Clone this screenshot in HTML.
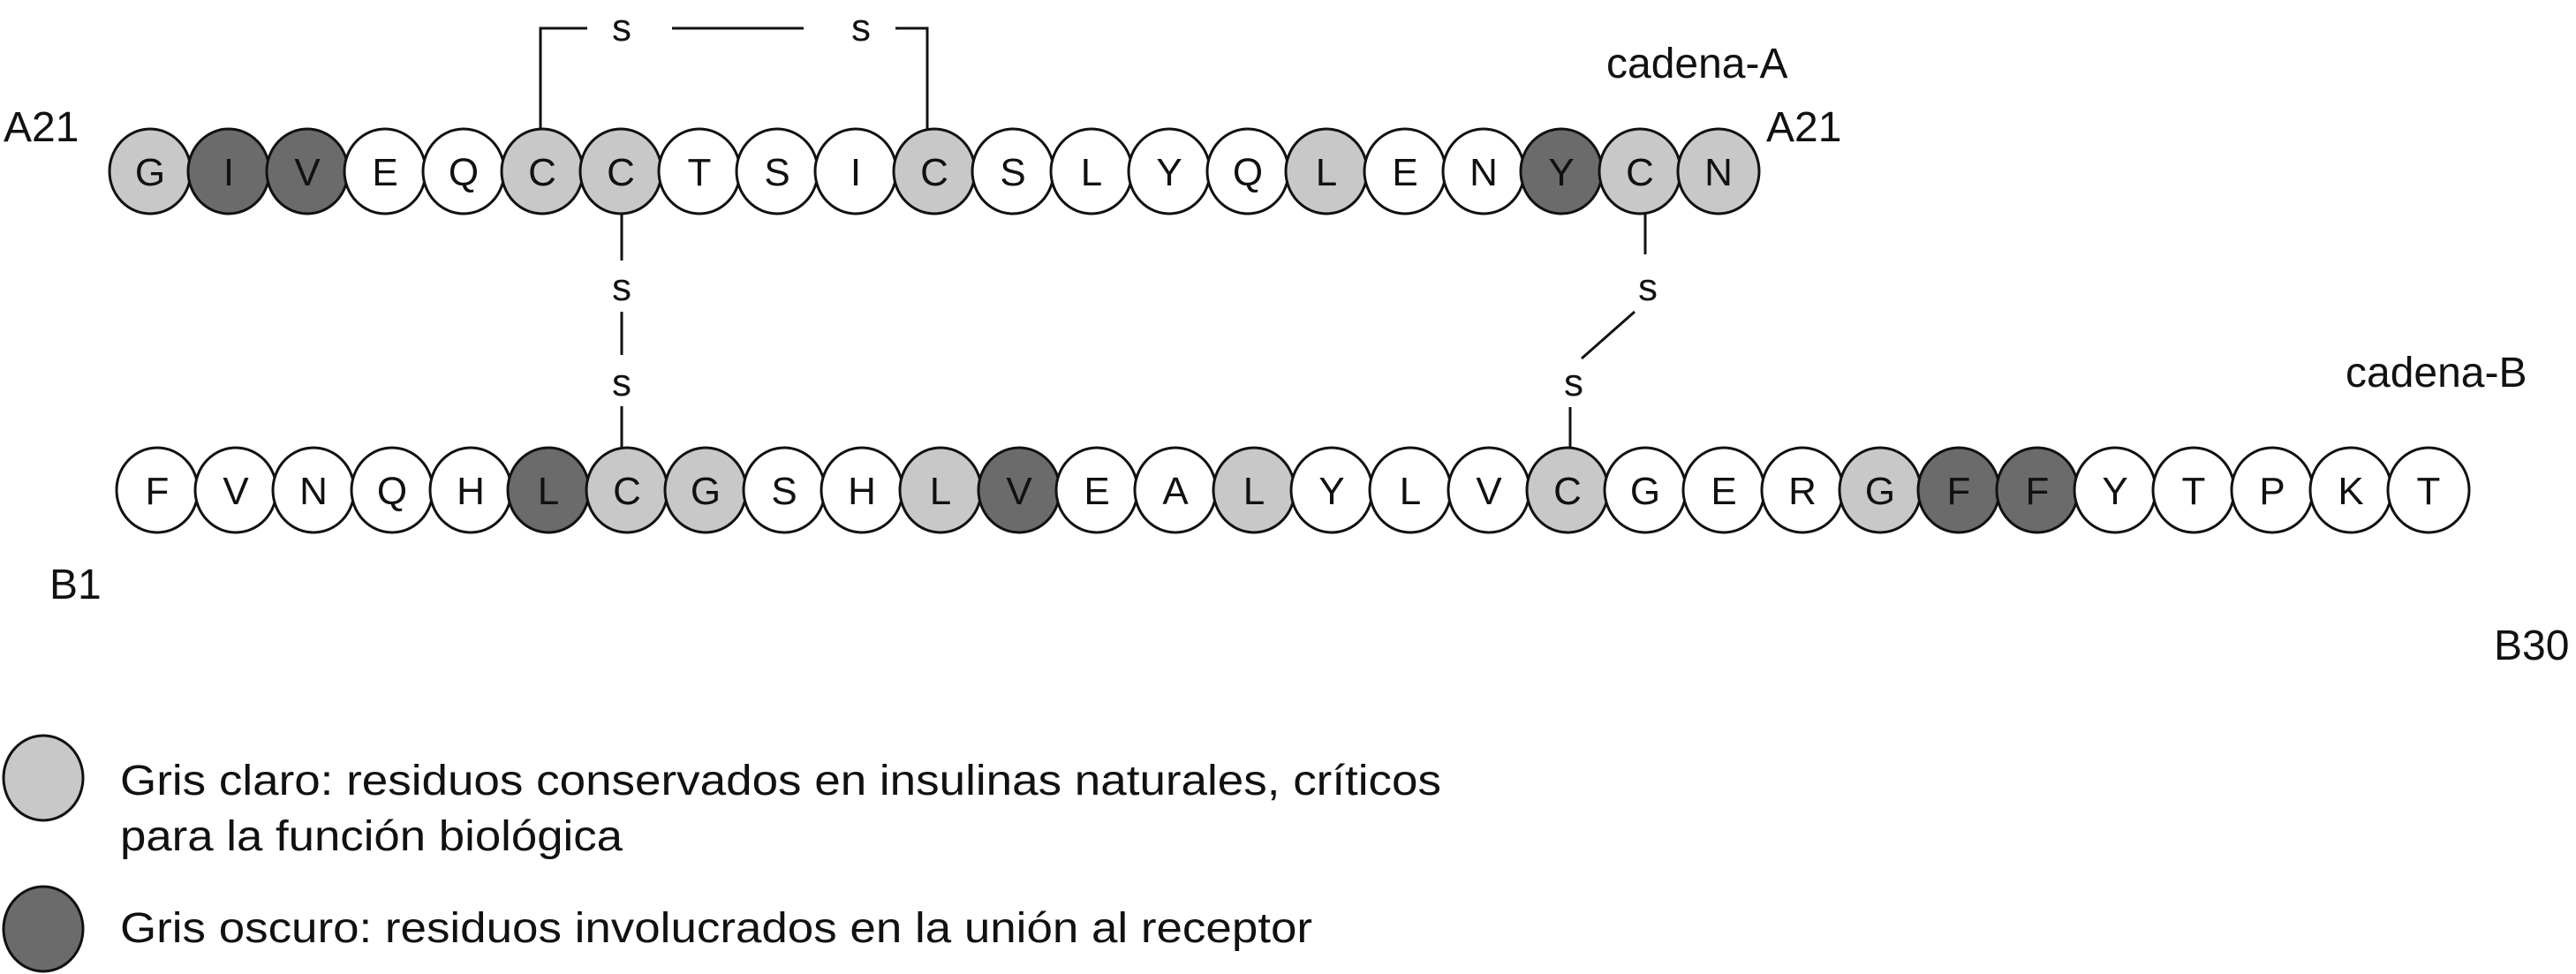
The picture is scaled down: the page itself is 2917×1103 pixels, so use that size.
<!DOCTYPE html>
<html><head><meta charset="utf-8"><style>
html,body{margin:0;padding:0;background:#fff;}
svg{display:block;}
text{font-family:"Liberation Sans",sans-serif;fill:#111;}
</style></head><body>
<svg width="2917" height="1103" viewBox="0 0 2917 1103" xmlns="http://www.w3.org/2000/svg">
<g stroke="#111" stroke-width="3" fill="none">
<polyline points="612,148 612,32 665,32"/>
<line x1="761" y1="32" x2="910" y2="32"/>
<polyline points="1014,32 1050,32 1050,148"/>
<line x1="704" y1="240" x2="704" y2="295"/>
<line x1="704" y1="353" x2="704" y2="402"/>
<line x1="704" y1="460" x2="704" y2="510"/>
<line x1="1863" y1="240" x2="1863" y2="288"/>
<line x1="1851" y1="353" x2="1791" y2="406"/>
<line x1="1778" y1="461" x2="1778" y2="510"/>
</g>
<g font-size="44" text-anchor="middle">
<text x="704" y="46">s</text><text x="975" y="46">s</text>
<text x="704" y="340">s</text><text x="704" y="448">s</text>
<text x="1866" y="340">s</text><text x="1782" y="448">s</text>
</g>
<g font-size="48">
<text x="4" y="160">A21</text>
<text x="1819" y="88">cadena-A</text>
<text x="2000" y="160">A21</text>
<text x="2656" y="438">cadena-B</text>
<text x="56" y="678">B1</text>
<text x="2824" y="747">B30</text>
</g>
<g stroke="#111" stroke-width="3">
<ellipse cx="49" cy="881" rx="45" ry="48" fill="#c8c8c8"/>
<ellipse cx="49" cy="1052" rx="45" ry="48" fill="#6b6b6b"/>
</g>
<g font-size="48">
<text x="136" y="900" textLength="1496" lengthAdjust="spacingAndGlyphs">Gris claro: residuos conservados en insulinas naturales, críticos</text>
<text x="136" y="963" textLength="569" lengthAdjust="spacingAndGlyphs">para la función biológica</text>
<text x="136" y="1067" textLength="1350" lengthAdjust="spacingAndGlyphs">Gris oscuro: residuos involucrados en la unión al receptor</text>
</g>
<g stroke="#111" stroke-width="3">
<ellipse cx="170" cy="194" rx="46" ry="48" fill="#c8c8c8"/>
<ellipse cx="259" cy="194" rx="46" ry="48" fill="#6b6b6b"/>
<ellipse cx="348" cy="194" rx="46" ry="48" fill="#6b6b6b"/>
<ellipse cx="436" cy="194" rx="46" ry="48" fill="#fff"/>
<ellipse cx="525" cy="194" rx="46" ry="48" fill="#fff"/>
<ellipse cx="614" cy="194" rx="46" ry="48" fill="#c8c8c8"/>
<ellipse cx="703" cy="194" rx="46" ry="48" fill="#c8c8c8"/>
<ellipse cx="792" cy="194" rx="46" ry="48" fill="#fff"/>
<ellipse cx="880" cy="194" rx="46" ry="48" fill="#fff"/>
<ellipse cx="969" cy="194" rx="46" ry="48" fill="#fff"/>
<ellipse cx="1058" cy="194" rx="46" ry="48" fill="#c8c8c8"/>
<ellipse cx="1147" cy="194" rx="46" ry="48" fill="#fff"/>
<ellipse cx="1236" cy="194" rx="46" ry="48" fill="#fff"/>
<ellipse cx="1324" cy="194" rx="46" ry="48" fill="#fff"/>
<ellipse cx="1413" cy="194" rx="46" ry="48" fill="#fff"/>
<ellipse cx="1502" cy="194" rx="46" ry="48" fill="#c8c8c8"/>
<ellipse cx="1591" cy="194" rx="46" ry="48" fill="#fff"/>
<ellipse cx="1680" cy="194" rx="46" ry="48" fill="#fff"/>
<ellipse cx="1768" cy="194" rx="46" ry="48" fill="#6b6b6b"/>
<ellipse cx="1857" cy="194" rx="46" ry="48" fill="#c8c8c8"/>
<ellipse cx="1946" cy="194" rx="46" ry="48" fill="#c8c8c8"/>
</g>
<g font-size="44" text-anchor="middle">
<text x="170" y="210">G</text><text x="259" y="210">I</text><text x="348" y="210">V</text><text x="436" y="210">E</text><text x="525" y="210">Q</text><text x="614" y="210">C</text><text x="703" y="210">C</text><text x="792" y="210">T</text><text x="880" y="210">S</text><text x="969" y="210">I</text><text x="1058" y="210">C</text><text x="1147" y="210">S</text><text x="1236" y="210">L</text><text x="1324" y="210">Y</text><text x="1413" y="210">Q</text><text x="1502" y="210">L</text><text x="1591" y="210">E</text><text x="1680" y="210">N</text><text x="1768" y="210">Y</text><text x="1857" y="210">C</text><text x="1946" y="210">N</text>
</g>
<g stroke="#111" stroke-width="3">
<ellipse cx="178" cy="555" rx="46" ry="48" fill="#fff"/>
<ellipse cx="267" cy="555" rx="46" ry="48" fill="#fff"/>
<ellipse cx="355" cy="555" rx="46" ry="48" fill="#fff"/>
<ellipse cx="444" cy="555" rx="46" ry="48" fill="#fff"/>
<ellipse cx="533" cy="555" rx="46" ry="48" fill="#fff"/>
<ellipse cx="621" cy="555" rx="46" ry="48" fill="#6b6b6b"/>
<ellipse cx="710" cy="555" rx="46" ry="48" fill="#c8c8c8"/>
<ellipse cx="799" cy="555" rx="46" ry="48" fill="#c8c8c8"/>
<ellipse cx="888" cy="555" rx="46" ry="48" fill="#fff"/>
<ellipse cx="976" cy="555" rx="46" ry="48" fill="#fff"/>
<ellipse cx="1065" cy="555" rx="46" ry="48" fill="#c8c8c8"/>
<ellipse cx="1154" cy="555" rx="46" ry="48" fill="#6b6b6b"/>
<ellipse cx="1242" cy="555" rx="46" ry="48" fill="#fff"/>
<ellipse cx="1331" cy="555" rx="46" ry="48" fill="#fff"/>
<ellipse cx="1420" cy="555" rx="46" ry="48" fill="#c8c8c8"/>
<ellipse cx="1508" cy="555" rx="46" ry="48" fill="#fff"/>
<ellipse cx="1597" cy="555" rx="46" ry="48" fill="#fff"/>
<ellipse cx="1686" cy="555" rx="46" ry="48" fill="#fff"/>
<ellipse cx="1775" cy="555" rx="46" ry="48" fill="#c8c8c8"/>
<ellipse cx="1863" cy="555" rx="46" ry="48" fill="#fff"/>
<ellipse cx="1952" cy="555" rx="46" ry="48" fill="#fff"/>
<ellipse cx="2041" cy="555" rx="46" ry="48" fill="#fff"/>
<ellipse cx="2129" cy="555" rx="46" ry="48" fill="#c8c8c8"/>
<ellipse cx="2218" cy="555" rx="46" ry="48" fill="#6b6b6b"/>
<ellipse cx="2307" cy="555" rx="46" ry="48" fill="#6b6b6b"/>
<ellipse cx="2395" cy="555" rx="46" ry="48" fill="#fff"/>
<ellipse cx="2484" cy="555" rx="46" ry="48" fill="#fff"/>
<ellipse cx="2573" cy="555" rx="46" ry="48" fill="#fff"/>
<ellipse cx="2662" cy="555" rx="46" ry="48" fill="#fff"/>
<ellipse cx="2750" cy="555" rx="46" ry="48" fill="#fff"/>
</g>
<g font-size="44" text-anchor="middle">
<text x="178" y="571">F</text><text x="267" y="571">V</text><text x="355" y="571">N</text><text x="444" y="571">Q</text><text x="533" y="571">H</text><text x="621" y="571">L</text><text x="710" y="571">C</text><text x="799" y="571">G</text><text x="888" y="571">S</text><text x="976" y="571">H</text><text x="1065" y="571">L</text><text x="1154" y="571">V</text><text x="1242" y="571">E</text><text x="1331" y="571">A</text><text x="1420" y="571">L</text><text x="1508" y="571">Y</text><text x="1597" y="571">L</text><text x="1686" y="571">V</text><text x="1775" y="571">C</text><text x="1863" y="571">G</text><text x="1952" y="571">E</text><text x="2041" y="571">R</text><text x="2129" y="571">G</text><text x="2218" y="571">F</text><text x="2307" y="571">F</text><text x="2395" y="571">Y</text><text x="2484" y="571">T</text><text x="2573" y="571">P</text><text x="2662" y="571">K</text><text x="2750" y="571">T</text>
</g>
</svg>
</body></html>
